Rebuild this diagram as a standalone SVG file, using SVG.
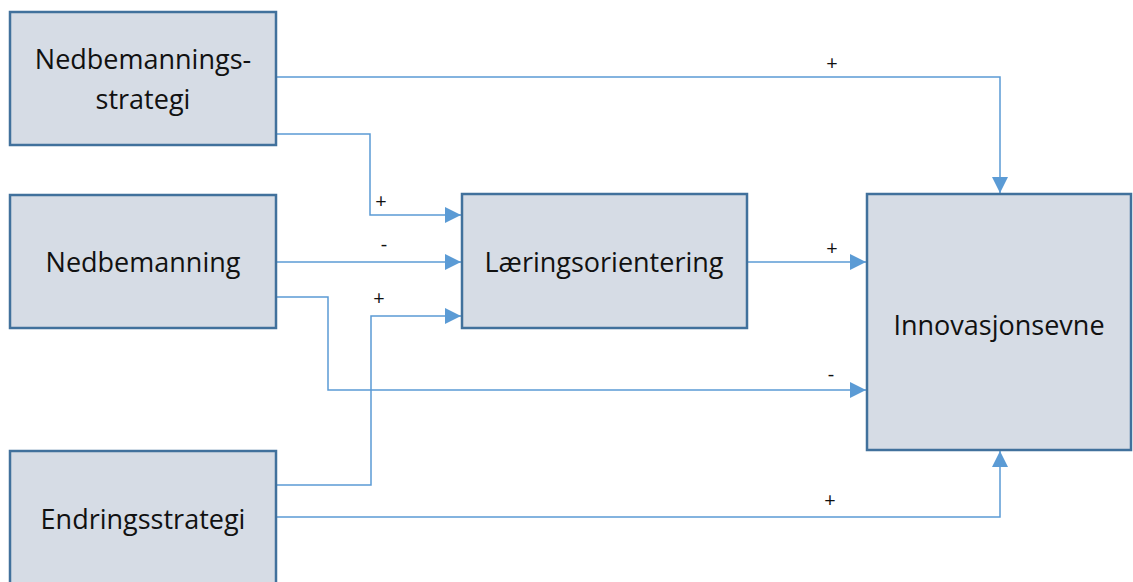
<svg xmlns="http://www.w3.org/2000/svg" width="1133" height="582" viewBox="0 0 1133 582">
<style>
.box{fill:#d6dce5;stroke:#41719c;stroke-width:2.5}
.lbl{font-family:"Open Sans","Liberation Sans",sans-serif;font-size:27px;fill:#111111;text-anchor:middle;dominant-baseline:central}
.sign{font-family:"Open Sans","Liberation Sans",sans-serif;font-size:20px;fill:#111111;text-anchor:middle;dominant-baseline:central}
.c{fill:none;stroke:#5b9bd5;stroke-width:1.5}
</style>
<defs>
<marker id="ah" viewBox="0 0 10 10" refX="10" refY="5" markerWidth="16" markerHeight="16" markerUnits="userSpaceOnUse" orient="auto">
<path d="M0,0 L10,5 L0,10 Z" fill="#5b9bd5"/>
</marker>
</defs>
<rect width="1133" height="582" fill="#ffffff"/>
<g id="connectors">
<path class="c" d="M277,77 H1000 V193" marker-end="url(#ah)"/>
<path class="c" d="M277,134 H370 V215 H461" marker-end="url(#ah)"/>
<path class="c" d="M277,262 H461" marker-end="url(#ah)"/>
<path class="c" d="M277,297 H328 V390 H866" marker-end="url(#ah)"/>
<path class="c" d="M277,485 H371 V316 H461" marker-end="url(#ah)"/>
<path class="c" d="M277,517 H1000 V451" marker-end="url(#ah)"/>
<path class="c" d="M747,262 H866" marker-end="url(#ah)"/>
<text class="sign" x="832" y="62">+</text>
<text class="sign" x="381" y="200">+</text>
<text class="sign" x="384" y="243">-</text>
<text class="sign" x="379" y="297">+</text>
<text class="sign" x="832" y="247">+</text>
<text class="sign" x="831" y="373">-</text>
<text class="sign" x="830" y="499">+</text>
</g>
<g id="node-nedbemanningsstrategi">
<rect class="box" x="10" y="12" width="266" height="133"/>
<text class="lbl" x="143" y="58">Nedbemannings-</text>
<text class="lbl" x="143" y="98">strategi</text>
</g>
<g id="node-nedbemanning">
<rect class="box" x="10" y="195" width="266" height="133"/>
<text class="lbl" x="143" y="261">Nedbemanning</text>
</g>
<g id="node-endringsstrategi">
<rect class="box" x="10" y="451" width="266" height="140"/>
<text class="lbl" x="143" y="518">Endringsstrategi</text>
</g>
<g id="node-laeringsorientering">
<rect class="box" x="462" y="194" width="285" height="134"/>
<text class="lbl" x="604" y="261">Læringsorientering</text>
</g>
<g id="node-innovasjonsevne">
<rect class="box" x="867" y="194" width="264" height="256"/>
<text class="lbl" x="999" y="324">Innovasjonsevne</text>
</g>
</svg>
